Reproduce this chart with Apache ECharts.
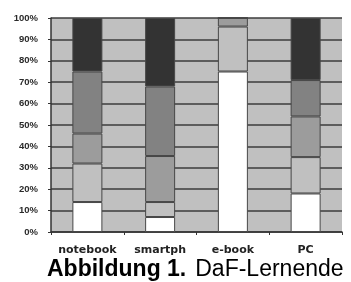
<!DOCTYPE html>
<html><head><meta charset="utf-8">
<script src="https://cdn.jsdelivr.net/npm/echarts@6/dist/echarts.min.js"></script>
<style>html,body{margin:0;padding:0;background:#fff}#c{width:351px;height:282px}</style>
</head><body><div id="c"></div>
<script>
var categories = ['notebook', 'smartph', 'e-book', 'PC'];
var seg1 = [14, 7, 75, 18];
var seg2 = [18, 7, 21, 17];
var seg3 = [14, 21.5, 4, 19];
var seg4 = [29, 32.5, 0, 17];
var seg5 = [25, 32, 0, 29];
var yTicks = [0, 10, 20, 30, 40, 50, 60, 70, 80, 90, 100];

var colors = ['#ffffff', '#c0c0c0', '#9c9c9c', '#828282', '#333333'];
var data = [seg1, seg2, seg3, seg4, seg5];
var chart = echarts.init(document.getElementById('c'));
chart.setOption({
  animation: false,
  title: {
    left: 47, top: 256, padding: 0,
    text: '{b|Abbildung 1.}{n|DaF-Lernende}',
    textStyle: {
      rich: {
        b: {fontFamily: 'Arial, Liberation Sans', fontWeight: 'bold', fontSize: 23, lineHeight: 25, verticalAlign: 'bottom', color: '#000', padding: [0, 9, 0, 0]},
        n: {fontFamily: 'Arial, Liberation Sans', fontWeight: 'normal', fontSize: 23, lineHeight: 25, verticalAlign: 'bottom', color: '#000'}
      }
    }
  },
  grid: {left: 51, top: 18, width: 291, height: 214, show: true, backgroundColor: '#c0c0c0', borderWidth: 0},
  xAxis: {
    type: 'category', data: categories,
    axisLine: {lineStyle: {color: '#333', width: 1.5}},
    axisTick: {show: true, length: 3, inside: false, lineStyle: {color: '#333'}},
    axisLabel: {interval: 0, margin: 13, fontFamily: 'DejaVu Sans', fontWeight: 'bold', fontSize: 11, color: '#222'}
  },
  yAxis: {
    type: 'value', min: 0, max: 100, interval: 10,
    axisLine: {show: true, lineStyle: {color: '#333', width: 1.5}},
    axisTick: {show: true, length: 3, lineStyle: {color: '#333'}},
    splitLine: {lineStyle: {color: '#3c3c3c', width: 1.5}},
    axisLabel: {margin: 13, formatter: function (v) { return yTicks.indexOf(v) >= 0 ? v + '%' : ''; },
      fontFamily: 'Arial, Liberation Sans', fontWeight: 'bold', fontSize: 9.5, color: '#2a2a2a'}
  },
  series: data.map(function (d, i) {
    return {
      type: 'bar', stack: 'all', data: d, barWidth: 30,
      itemStyle: {color: colors[i], borderColor: '#474747', borderWidth: 1}
    };
  })
});
</script></body></html>
